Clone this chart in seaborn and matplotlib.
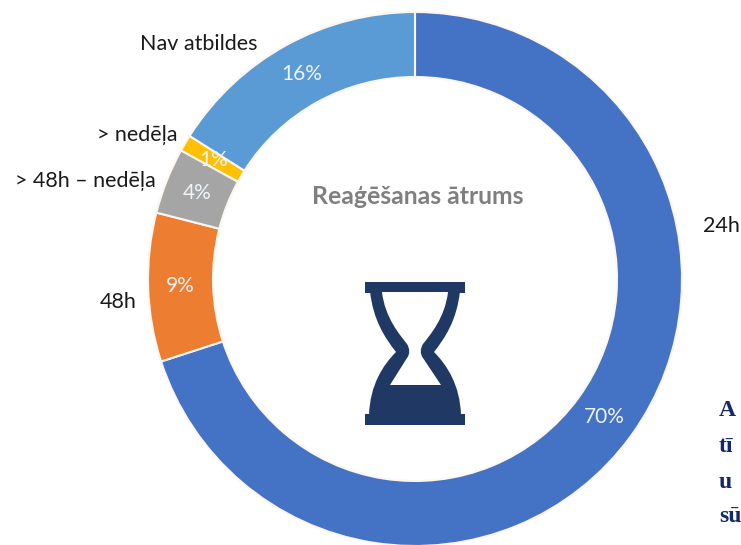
#!/usr/bin/env python3
"""Reaģēšanas ātrums - donut chart with hourglass icon."""

import matplotlib
matplotlib.use("Agg")
import matplotlib.pyplot as plt
import seaborn as sns
from matplotlib.patches import PathPatch, Rectangle
from matplotlib.path import Path

# Data
CATEGORIES = ["24h", "48h", "> 48h – nedēļa", "> nedēļa", "Nav atbildes"]
VALUES = [70, 9, 4, 1, 16]
COLORS = ["#4472C4", "#ED7D31", "#A5A5A5", "#FFC000", "#5B9BD5"]
TITLE = "Reaģēšanas ātrums"
CUT_TEXT = ["A", "tī", "u", "sū"]

# Layout, in pixels of the picture
CENTER = (415, 279)
RADIUS = 267
HOLE = 202
LABEL_POS = [(721, 226), (118, 302), (85, 181), (137, 135), (199, 44)]
NAVY = "#1F3864"

sns.set_theme(style="white")
plt.rcParams["font.family"] = ["Lato", "DejaVu Sans"]

fig = plt.figure(figsize=(7.41, 5.45), dpi=100)
ax = fig.add_axes([0, 0, 1, 1])

wedges, _, pcts = ax.pie(
    VALUES,
    colors=COLORS,
    startangle=90,
    counterclock=False,
    center=CENTER,
    radius=RADIUS,
    autopct="%.0f%%",
    pctdistance=(RADIUS + HOLE) / 2 / RADIUS,
    wedgeprops={"width": RADIUS - HOLE, "edgecolor": "#FDF6EE", "linewidth": 1.5},
    textprops={"color": "#EEF3FA", "fontsize": 15},
)

ax.set_xlim(0, 741)
ax.set_ylim(545, 0)
ax.axis("off")

# pie was drawn before the y axis flip, so redo the wedges' direction
for w in wedges:
    t1, t2 = w.theta1, w.theta2
    w.set_theta1(-t2)
    w.set_theta2(-t1)
for t in pcts:
    x, y = t.get_position()
    t.set_position((x, 2 * CENTER[1] - y))

for name, (x, y) in zip(CATEGORIES, LABEL_POS):
    ax.text(x, y, name, ha="center", va="center", fontsize=15.5, color="#1A1A1A")

ax.text(418, 197, TITLE, ha="center", va="center", fontsize=17.8,
        fontweight="bold", color="#7F7F7F")


# Hourglass icon, coordinates measured from the centre line
def glass(points):
    verts, codes = [], []
    for code, pts in points:
        codes += [code] * len(pts)
        verts += [(415 + px, py) for px, py in pts]
    return verts, codes


ax.add_patch(Rectangle((365, 282), 100, 10.5, color=NAVY, lw=0))
ax.add_patch(Rectangle((365, 414), 100, 10.5, color=NAVY, lw=0))

outer, outer_c = glass([
    (Path.MOVETO, [(-45, 291)]),
    (Path.CURVE4, [(-42, 320), (-30, 338), (-19, 352)]),
    (Path.CURVE4, [(-32, 365), (-45, 385), (-46, 415)]),
    (Path.LINETO, [(46, 415)]),
    (Path.CURVE4, [(45, 385), (32, 365), (19, 352)]),
    (Path.CURVE4, [(30, 338), (42, 320), (45, 291)]),
    (Path.CLOSEPOLY, [(-45, 291)]),
])
ax.add_patch(PathPatch(Path(outer, outer_c), facecolor=NAVY, edgecolor="none"))

inner, inner_c = glass([
    (Path.MOVETO, [(-33, 292)]),
    (Path.CURVE4, [(-30, 318), (-15, 335), (-8, 344)]),
    (Path.CURVE4, [(-5, 349), (-5, 354), (-8, 358)]),
    (Path.LINETO, [(-25, 385)]),
    (Path.LINETO, [(26, 385)]),
    (Path.LINETO, [(8, 358)]),
    (Path.CURVE4, [(5, 354), (5, 349), (8, 344)]),
    (Path.CURVE4, [(15, 335), (30, 318), (33, 292)]),
    (Path.CLOSEPOLY, [(-33, 292)]),
])
ax.add_patch(PathPatch(Path(inner, inner_c), facecolor="white", edgecolor="none"))

# Text of the page around the chart, shrunk a little to stay inside the picture
for s, y in zip(CUT_TEXT, [410, 447, 482, 517]):
    ax.text(719, y, s, ha="left", va="center", fontsize=17,
            fontweight="bold", family=["Liberation Serif", "DejaVu Serif"],
            color="#14296B")

fig.savefig("out.png", dpi=100)
